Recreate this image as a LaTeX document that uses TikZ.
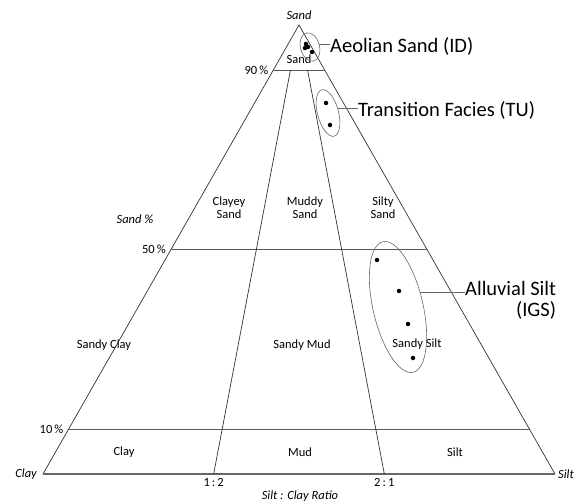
\documentclass[tikz,border=0pt]{standalone}
\usepackage{fontspec}
\setmainfont{Carlito}
\usepackage{tikz}
\usetikzlibrary{calc,shapes.geometric}

\begin{document}
\begin{tikzpicture}[x=1pt,y=1pt]
\tikzstyle{every node}+=[inner sep=0pt]
\tikzstyle{edge}=[black!80,line width=0.7pt]
\tikzstyle{limit}=[black!65,line width=0.8pt]
\tikzstyle{region}=[font=\fontsize{12.5}{13}\selectfont,align=center]
\tikzstyle{axis}=[font=\fontsize{12.5}{13}\selectfont\itshape]
\tikzstyle{facies}=[font=\fontsize{20.5}{21}\selectfont]
\tikzstyle{sample}=[circle,fill=black,minimum size=4.5pt]
\tikzstyle{group}=[ellipse,draw=black!60,line width=0.6pt]
\useasboundingbox (0,0) rectangle (585,-503);
\coordinate (Sa) at (299,-25);
\coordinate (Cl) at (43,-474);
\coordinate (Si) at (555,-474);
\coordinate (l90) at ($(Sa)!0.1!(Cl)$);
\coordinate (r90) at ($(Sa)!0.1!(Si)$);
\coordinate (l50) at ($(Sa)!0.5!(Cl)$);
\coordinate (r50) at ($(Sa)!0.5!(Si)$);
\coordinate (l10) at ($(Sa)!0.9!(Cl)$);
\coordinate (r10) at ($(Sa)!0.9!(Si)$);
\coordinate (q12) at ($(Cl)!1/3!(Si)$);
\coordinate (q21) at ($(Cl)!2/3!(Si)$);
\coordinate (t12) at ($(l90)!1/3!(r90)$);
\coordinate (t21) at ($(l90)!2/3!(r90)$);
\draw [edge] (Cl) -- (Sa) -- (Si);
\draw [black!60,line width=1.5pt] (Cl) -- (Si);
\draw [limit] (l90) -- (r90);
\draw [limit] (l50) -- (r50);
\draw [limit] (l10) -- (r10);
\draw [edge] (t12) -- (q12);
\draw [edge] (t21) -- (q21);
\node [axis,above=5pt] (sandtop) at (Sa) {Sand};
\node [axis,left=6pt] (claycorner) at (Cl) {Clay};
\node [axis,right=3pt] (siltcorner) at (Si) {Silt};
\node [region,left=5pt] (p90) at (l90) {90\,\%};
\node [region,left=5pt] (p50) at (l50) {50\,\%};
\node [region,left=5pt] (p10) at (l10) {10\,\%};
\node [axis] (sandpct) at (135,-219) {Sand \%};
\node [region,below=4pt] (r12) at (q12) {1\,:\,2};
\node [region,below=4pt] (r21) at (q21) {2\,:\,1};
\node [axis] (ratio) at (300,-496) {Silt : Clay Ratio};
\node [region] (sand) at (299,-59) {Sand};
\node [region] (clayeysand) at (229,-208) {Clayey\\Sand};
\node [region] (muddysand) at (305,-208) {Muddy\\Sand};
\node [region] (siltysand) at (383,-208) {Silty\\Sand};
\node [region] (sandyclay) at (104,-345) {Sandy Clay};
\node [region] (sandymud) at (302,-345) {Sandy Mud};
\node [region] (sandysilt) at (417,-344) {Sandy Silt};
\node [region] (clay) at (124,-452) {Clay};
\node [region] (mud) at (300,-452) {Mud};
\node [region] (silt) at (455,-452) {Silt};
\node [sample] (id1) at (306,-44) {};
\node [sample] (id2) at (308,-47) {};
\node [sample] (id3) at (305,-48) {};
\node [sample] (id4) at (312,-52) {};
\node [sample] (tu1) at (326,-103) {};
\node [sample] (tu2) at (330,-125) {};
\node [sample] (igs1) at (377,-260) {};
\node [sample] (igs2) at (399,-291) {};
\node [sample] (igs3) at (408,-324) {};
\node [sample] (igs4) at (413,-358) {};
\node [group,minimum width=19pt,minimum height=29pt,rotate=15] (idset) at (310,-47) {};
\node [group,minimum width=21pt,minimum height=48pt,rotate=15] (tuset) at (328,-113) {};
\node [group,minimum width=50pt,minimum height=134pt,rotate=13] (igsset) at (398,-307) {};
\node [facies,anchor=west] (aeolian) at (330,-46) {Aeolian Sand (ID)};
\node [facies,anchor=west] (transition) at (358,-110) {Transition Facies (TU)};
\node [facies,anchor=north west,align=right] (alluvial) at (465,-281) {Alluvial Silt\\(IGS)};
\draw [black!60,line width=0.6pt] (idset.east) -- (idset.east -| aeolian.west);
\draw [black!60,line width=0.6pt] (tuset.10) -- (tuset.10 -| transition.west);
\draw [black!60,line width=0.6pt] (igsset.20) -- (igsset.20 -| alluvial.west);
\end{tikzpicture}
\end{document}
